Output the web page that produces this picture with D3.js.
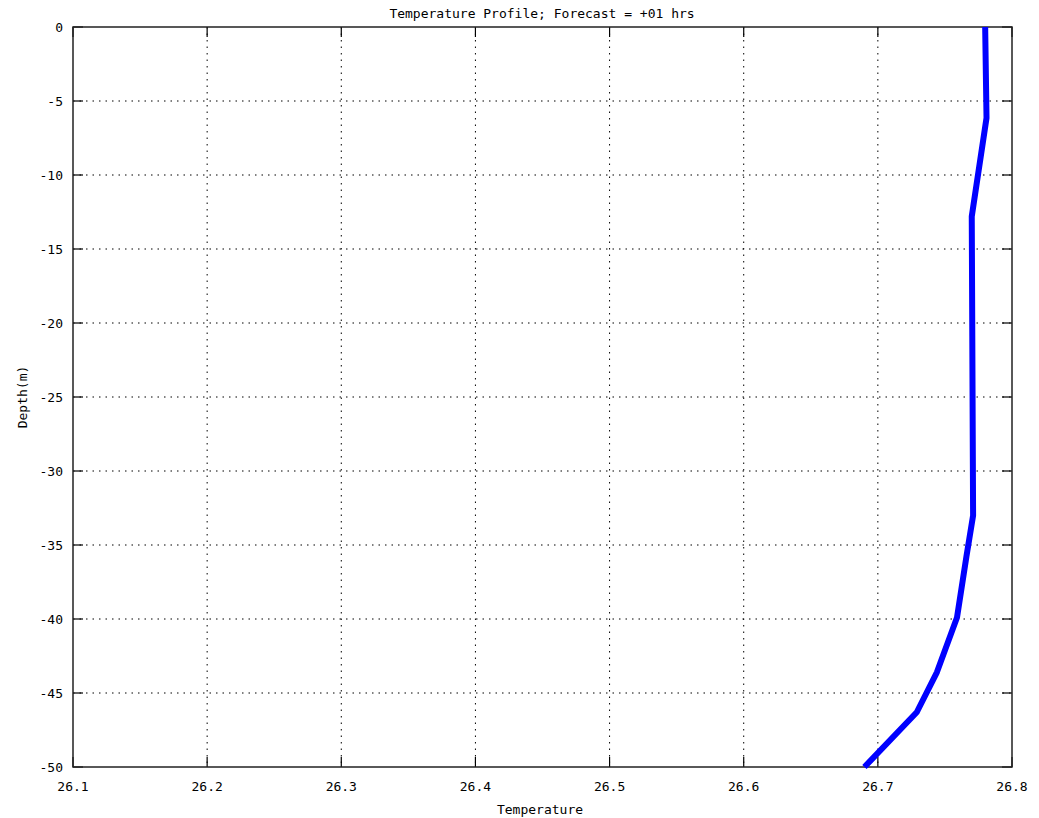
<!DOCTYPE html>
<html>
<head>
<meta charset="utf-8">
<script src="https://cdn.jsdelivr.net/npm/d3@7"></script>
<style>
  body { margin: 0; background: #fff; }
  text { font-family: "DejaVu Sans Mono", monospace; font-size: 13px; fill: #000; }
</style>
</head>
<body>
<div id="root"></div>
<script>
// Data
const depths = [0, -6.15, -12.8, -33.0, -35.8, -39.9, -43.6, -46.3, -50];
const temps = [26.780, 26.781, 26.770, 26.771, 26.766, 26.759, 26.744, 26.729, 26.690];
const xTicks = [26.1, 26.2, 26.3, 26.4, 26.5, 26.6, 26.7, 26.8];
const yTicks = [0, -5, -10, -15, -20, -25, -30, -35, -40, -45, -50];

const width = 1039, height = 818;
const plotLeft = 73, plotRight = 1012, plotTop = 27, plotBottom = 767;
const tickLen = 10;

const svg = d3.select('#root').append('svg')
    .attr('width', width)
    .attr('height', height);

const x = d3.scaleLinear().domain([26.1, 26.8]).range([plotLeft, plotRight]);
const y = d3.scaleLinear().domain([-50, 0]).range([plotBottom, plotTop]);

// Grid (dotted)
svg.append('g').selectAll('line').data(xTicks.slice(1, -1)).join('line')
    .attr('x1', d => x(d)).attr('x2', d => x(d))
    .attr('y1', plotTop).attr('y2', plotBottom)
    .attr('stroke', '#000').attr('stroke-width', 1)
    .attr('stroke-dasharray', '1.5,5');
svg.append('g').selectAll('line').data(yTicks.slice(1, -1)).join('line')
    .attr('y1', d => y(d)).attr('y2', d => y(d))
    .attr('x1', plotLeft).attr('x2', plotRight)
    .attr('stroke', '#000').attr('stroke-width', 1)
    .attr('stroke-dasharray', '1.5,5');

// Inward ticks on all four sides
const ticks = svg.append('g').attr('stroke', '#000').attr('stroke-width', 1.2);
ticks.selectAll('.xb').data(xTicks).join('line')
    .attr('x1', d => x(d)).attr('x2', d => x(d))
    .attr('y1', plotBottom).attr('y2', plotBottom - tickLen);
ticks.selectAll('.xt').data(xTicks).join('line')
    .attr('x1', d => x(d)).attr('x2', d => x(d))
    .attr('y1', plotTop).attr('y2', plotTop + tickLen);
ticks.selectAll('.yl').data(yTicks).join('line')
    .attr('y1', d => y(d)).attr('y2', d => y(d))
    .attr('x1', plotLeft).attr('x2', plotLeft + tickLen);
ticks.selectAll('.yr').data(yTicks).join('line')
    .attr('y1', d => y(d)).attr('y2', d => y(d))
    .attr('x1', plotRight).attr('x2', plotRight - tickLen);

// Frame
svg.append('rect')
    .attr('x', plotLeft).attr('y', plotTop)
    .attr('width', plotRight - plotLeft).attr('height', plotBottom - plotTop)
    .attr('fill', 'none').attr('stroke', '#222').attr('stroke-width', 1.5);

// Profile line
const line = d3.line().x(d => x(d[0])).y(d => y(d[1]));
svg.append('path')
    .datum(temps.map((t, i) => [t, depths[i]]))
    .attr('d', line)
    .attr('fill', 'none')
    .attr('stroke', '#0000ff')
    .attr('stroke-width', 6)
    .attr('stroke-linejoin', 'round');

// Tick labels
svg.append('g').selectAll('text').data(xTicks).join('text')
    .attr('x', d => x(d)).attr('y', 791)
    .attr('text-anchor', 'middle')
    .text(d => d.toFixed(1));
svg.append('g').selectAll('text').data(yTicks).join('text')
    .attr('x', 63).attr('y', d => y(d) + 5)
    .attr('text-anchor', 'end')
    .text(d => d);

// Titles
svg.append('text')
    .attr('x', 542).attr('y', 18)
    .attr('text-anchor', 'middle')
    .text('Temperature Profile; Forecast = +01 hrs');
svg.append('text')
    .attr('x', 540).attr('y', 814)
    .attr('text-anchor', 'middle')
    .text('Temperature');
svg.append('text')
    .attr('text-anchor', 'middle')
    .attr('transform', `translate(27, ${(plotTop + plotBottom) / 2}) rotate(-90)`)
    .text('Depth(m)');
</script>
</body>
</html>
